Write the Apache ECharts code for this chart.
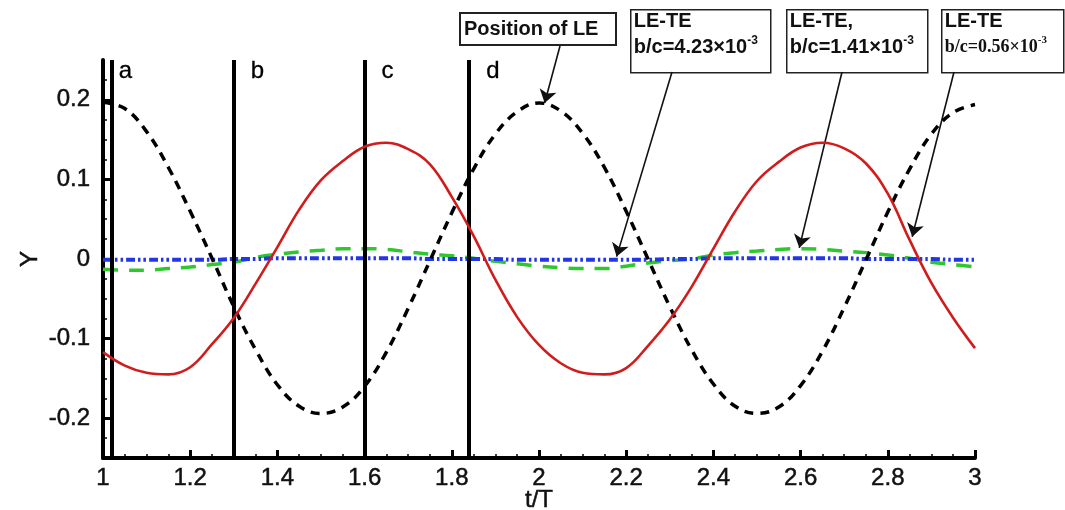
<!DOCTYPE html>
<html>
<head>
<meta charset="utf-8">
<script src="https://cdn.jsdelivr.net/npm/echarts@6/dist/echarts.min.js"></script>
<style>
  html, body { margin: 0; padding: 0; background: #ffffff; }
  #chart { width: 1065px; height: 510px; }
</style>
</head>
<body>
<div id="chart"></div>
<script>
// Non-dimensional time samples
const tValues = [1.00,1.05,1.10,1.15,1.20,1.25,1.30,1.35,1.40,1.45,1.50,
  1.55,1.60,1.65,1.70,1.75,1.80,1.85,1.90,1.95,2.00,
  2.05,2.10,2.15,2.20,2.25,2.30,2.35,2.40,2.45,2.50,
  2.55,2.60,2.65,2.70,2.75,2.80,2.85,2.90,2.95,3.00];

// Leading-edge position
const lePosition = [0.197,0.189,0.160,0.115,0.060,0.001,-0.060,-0.114,-0.158,-0.185,-0.194,
  -0.186,-0.160,-0.117,-0.062,-0.002,0.058,0.113,0.157,0.185,0.196,
  0.186,0.158,0.115,0.060,0.000,-0.060,-0.114,-0.157,-0.185,-0.194,
  -0.186,-0.159,-0.116,-0.061,-0.001,0.059,0.113,0.157,0.184,0.194];

// LE-TE, b/c = 0.56e-3
const leTe056 = [-0.117,-0.134,-0.143,-0.145,-0.136,-0.107,-0.074,-0.031,0.015,0.062,0.099,
  0.123,0.141,0.146,0.138,0.119,0.078,0.029,-0.026,-0.073,-0.108,
  -0.131,-0.143,-0.145,-0.137,-0.109,-0.076,-0.035,0.013,0.060,0.098,
  0.122,0.140,0.146,0.139,0.120,0.082,0.024,-0.030,-0.074,-0.112];

// LE-TE, b/c = 1.41e-3
const leTe141 = [-0.013,-0.014,-0.014,-0.012,-0.010,-0.007,-0.004,0.002,0.006,0.009,0.011,
  0.013,0.013,0.012,0.009,0.006,0.004,0.001,-0.003,-0.006,-0.009,
  -0.011,-0.012,-0.012,-0.009,-0.005,-0.002,0.000,0.005,0.008,0.010,
  0.012,0.013,0.012,0.010,0.008,0.005,0.001,-0.004,-0.007,-0.010];

// LE-TE, b/c = 4.23e-3
const leTe423 = [-0.001,-0.001,-0.001,-0.001,-0.001,-0.001,0.000,0.000,0.001,0.001,0.001,
  0.001,0.001,0.001,0.001,0.000,0.000,0.000,0.000,-0.001,-0.001,
  -0.001,-0.001,-0.001,-0.001,-0.001,0.000,0.000,0.001,0.001,0.001,
  0.001,0.001,0.001,0.001,0.000,0.000,0.000,0.000,-0.001,-0.001];

// Snapshot instants marked by vertical lines
const snapNames = ['a', 'b', 'c', 'd'];
const snapTimes = [1.018, 1.30, 1.60, 1.84];

// Axis tick labels
const yTickValues = [-0.2, -0.1, 0, 0.1, 0.2];
const yMinorValues = [-0.225,-0.175,-0.15,-0.125,-0.075,-0.05,-0.025,0.025,0.05,0.075,0.125,0.15,0.175,0.225];

// Points the annotation arrows point at: [t, Y]
const arrowTargets = {
  position: [2.013, 0.196],
  b423: [2.178, 0.003],
  b141: [2.597, 0.014],
  b056: [2.856, 0.028]
};

const pair = arr => tValues.map((t, i) => [t, arr[i]]);

const FONT = '"Liberation Sans", Arial, sans-serif';
const SERIF = '"Liberation Serif", "Times New Roman", serif';
const INK = '#111';

const chart = echarts.init(document.getElementById('chart'), null, { renderer: 'canvas' });

const arrowLine = (sx, sy, target) => [
  { x: sx, y: sy, symbol: 'none' },
  { coord: target, symbol: 'arrow' }
];

const tickText = { fontFamily: FONT, fontSize: 24, color: INK, textBorderColor: INK, textBorderWidth: 0.5 };
const SMOOTH = 0.4;

const option = {
  animation: false,
  backgroundColor: '#ffffff',
  grid: { left: 103, right: 90, top: 60, bottom: 52, containLabel: false, outerBoundsMode: 'none' },
  xAxis: {
    type: 'value',
    min: 1, max: 3, interval: 0.2,
    name: 't/T',
    nameLocation: 'middle',
    nameGap: 30,
    nameMoveOverlap: false,
    nameTextStyle: tickText,
    axisLine: { show: true, onZero: false, lineStyle: { color: '#000', width: 4 } },
    axisTick: { show: true, inside: true, length: 8, lineStyle: { color: '#000', width: 3 } },
    minorTick: { show: true, splitNumber: 4, length: 4, lineStyle: { color: '#000', width: 1.5 } },
    axisLabel: Object.assign({ margin: 8 }, tickText),
    splitLine: { show: false }
  },
  yAxis: [{
    type: 'value',
    min: -0.25, max: 0.25,
    name: 'Y',
    nameLocation: 'middle',
    nameGap: 61,
    nameRotate: 90,
    nameMoveOverlap: false,
    nameTextStyle: tickText,
    axisLine: { show: true, onZero: false, lineStyle: { color: '#000', width: 4 } },
    axisTick: { show: true, inside: true, length: 8, customValues: yTickValues, lineStyle: { color: '#000', width: 3 } },
    axisLabel: Object.assign({ margin: 13, customValues: yTickValues }, tickText),
    splitLine: { show: false }
  }, {
    type: 'value',
    min: -0.25, max: 0.25,
    position: 'left',
    axisLine: { show: false },
    axisTick: { show: true, inside: true, length: 4, customValues: yMinorValues, lineStyle: { color: '#000', width: 1.5 } },
    axisLabel: { show: false },
    splitLine: { show: false }
  }],
  series: [
    {
      name: 'LE-TE b/c=1.41e-3',
      type: 'line',
      data: pair(leTe141),
      smooth: SMOOTH,
      showSymbol: false,
      lineStyle: { color: '#2ec82e', width: 3.5, type: [15, 11] },
      z: 3
    },
    {
      name: 'LE-TE b/c=4.23e-3',
      type: 'line',
      data: pair(leTe423),
      smooth: SMOOTH,
      showSymbol: false,
      lineStyle: { color: '#2236e8', width: 4, type: [9, 3, 2.5, 3, 2.5, 3] },
      z: 4
    },
    {
      name: 'Position of LE',
      type: 'line',
      data: pair(lePosition),
      smooth: SMOOTH,
      showSymbol: false,
      lineStyle: { color: '#000', width: 3.5, type: [9, 7] },
      z: 5
    },
    {
      name: 'LE-TE b/c=0.56e-3',
      type: 'line',
      data: pair(leTe056),
      smooth: SMOOTH,
      showSymbol: false,
      lineStyle: { color: '#d01c1c', width: 2.6 },
      z: 6
    },
    {
      // snapshot lines and their letters
      name: 'snapshots',
      type: 'scatter',
      symbolSize: 0,
      silent: true,
      z: 7,
      itemStyle: { opacity: 1 },
      data: snapTimes.map((t, i) => ({
        value: [t, 0.236],
        label: { distance: i === 0 ? 8 : 17 }
      })),
      label: Object.assign({
        show: true,
        position: 'right',
        formatter: p => snapNames[p.dataIndex]
      }, tickText, { color: '#000', textBorderColor: '#000', textBorderWidth: 0.3 }),
      markLine: {
        silent: true,
        symbol: 'none',
        label: { show: false },
        lineStyle: { color: '#000', width: 4, type: 'solid' },
        data: snapTimes.map(t => ({ xAxis: t }))
      }
    },
    {
      // annotation arrows
      name: 'arrows',
      type: 'line',
      data: [],
      z: 8,
      markLine: {
        silent: true,
        symbolSize: 13,
        label: { show: false },
        lineStyle: { color: INK, width: 1.6, type: 'solid' },
        data: [
          arrowLine(560, 46, arrowTargets.position),
          arrowLine(672, 72, arrowTargets.b423),
          arrowLine(842, 72, arrowTargets.b141),
          arrowLine(954, 72, arrowTargets.b056)
        ]
      }
    }
  ],
  graphic: [
    {
      type: 'group', left: 459, top: 12,
      children: [
        { type: 'rect', shape: { x: 0, y: 0, width: 156, height: 32 },
          style: { fill: '#fff', stroke: '#222', lineWidth: 2 } },
        { type: 'text', x: 4, y: 16,
          style: { text: 'Position of LE', font: 'bold 20px ' + FONT, fill: INK, verticalAlign: 'middle' } }
      ]
    },
    {
      type: 'group', left: 630, top: 9,
      children: [
        { type: 'rect', shape: { x: 0, y: 0, width: 140, height: 63 },
          style: { fill: '#fff', stroke: '#222', lineWidth: 1.5 } },
        { type: 'text', x: 3, y: -1,
          style: {
            text: '{t|LE-TE}\n{t|b/c=4.23×10}{s|-3}',
            rich: {
              t: { font: 'bold 20px ' + FONT, fill: INK, lineHeight: 26 },
              s: { font: 'bold 12px ' + FONT, fill: INK, lineHeight: 26, verticalAlign: 'top', padding: [0, 0, 10, 0] }
            }
          } }
      ]
    },
    {
      type: 'group', left: 786, top: 9,
      children: [
        { type: 'rect', shape: { x: 0, y: 0, width: 141, height: 63 },
          style: { fill: '#fff', stroke: '#222', lineWidth: 1.5 } },
        { type: 'text', x: 3, y: -1,
          style: {
            text: '{t|LE-TE,}\n{t|b/c=1.41×10}{s|-3}',
            rich: {
              t: { font: 'bold 20px ' + FONT, fill: INK, lineHeight: 26 },
              s: { font: 'bold 12px ' + FONT, fill: INK, lineHeight: 26, verticalAlign: 'top', padding: [0, 0, 10, 0] }
            }
          } }
      ]
    },
    {
      type: 'group', left: 941, top: 9,
      children: [
        { type: 'rect', shape: { x: 0, y: 0, width: 122, height: 63 },
          style: { fill: '#fff', stroke: '#222', lineWidth: 1.5 } },
        { type: 'text', x: 3, y: -1,
          style: {
            text: '{t|LE-TE}\n{r|b/c=0.56×10}{s|-3}',
            rich: {
              t: { font: 'bold 20px ' + FONT, fill: INK, lineHeight: 26 },
              r: { font: 'bold 18px ' + SERIF, fill: INK, lineHeight: 26 },
              s: { font: 'bold 11px ' + SERIF, fill: INK, lineHeight: 26, verticalAlign: 'top', padding: [0, 0, 10, 0] }
            }
          } }
      ]
    }
  ]
};

chart.setOption(option);
</script>
</body>
</html>
